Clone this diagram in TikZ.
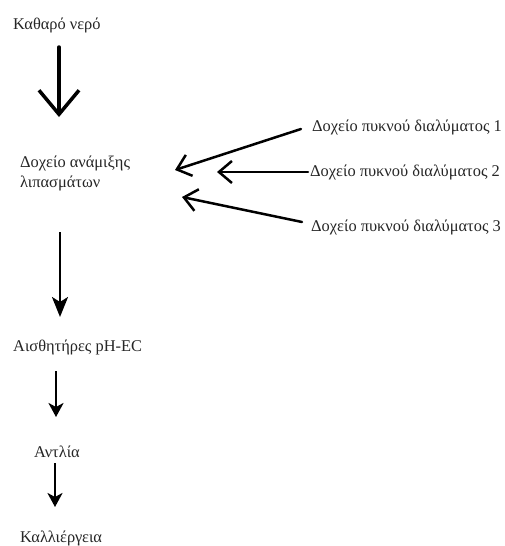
\documentclass[tikz,border=0pt]{standalone}
\usepackage{fontspec}
\setmainfont{Liberation Serif}
\usetikzlibrary{arrows.meta}
\begin{document}
\begin{tikzpicture}[x=1pt,y=-1pt,
  lbl/.style={inner sep=0pt, anchor=west, align=left, font=\fontsize{16.4}{20}\selectfont, text=black!85},
  bigarrow/.style={line width=3.5pt, line cap=round, -{Straight Barb[length=24pt,width=40pt]}},
  downarrow/.style={line width=2.5pt, -{Stealth[length=20pt,width=16pt,inset=5pt]}},
  smallarrow/.style={line width=2.5pt, -{Stealth[length=14pt,width=15pt,inset=4pt]}},
  sidearrow/.style={line width=2.5pt, line cap=round, -{Straight Barb[length=13pt,width=22pt]}}
]
\useasboundingbox[fill=white] (0,0) rectangle (505,546);

\node[lbl] (water) at (13,25) {Καθαρό νερό};
\node[lbl] (mix) at (20,173) {Δοχείο ανάμιξης\\λιπασμάτων};
\node[lbl] (c1) at (312,127) {Δοχείο πυκνού διαλύματος 1};
\node[lbl] (c2) at (310,172) {Δοχείο πυκνού διαλύματος 2};
\node[lbl] (c3) at (311,227) {Δοχείο πυκνού διαλύματος 3};
\node[lbl] (sens) at (13,347) {Αισθητήρες pH-EC};
\node[lbl, anchor=center] (pump) at (57,452) {Αντλία};
\node[lbl] (crop) at (20,538) {Καλλιέργεια};

\coordinate (w1) at (59,47);  \coordinate (w2) at (59,117);
\coordinate (m1) at (60,232); \coordinate (m2) at (60,317);
\coordinate (s1) at (56,371); \coordinate (s2) at (56,417);
\coordinate (p1) at (55,463); \coordinate (p2) at (55,507);
\coordinate (a1) at (301,129); \coordinate (a2) at (175,170);
\coordinate (b1) at (308,172); \coordinate (b2) at (217,172);
\coordinate (d1) at (302,222); \coordinate (d2) at (182,197);

\draw[bigarrow] (w1) -- (w2);
\draw[downarrow] (m1) -- (m2);
\draw[smallarrow] (s1) -- (s2);
\draw[smallarrow] (p1) -- (p2);
\draw[sidearrow] (a1) -- (a2);
\draw[sidearrow] (b1) -- (b2);
\draw[sidearrow] (d1) -- (d2);
\end{tikzpicture}
\end{document}
